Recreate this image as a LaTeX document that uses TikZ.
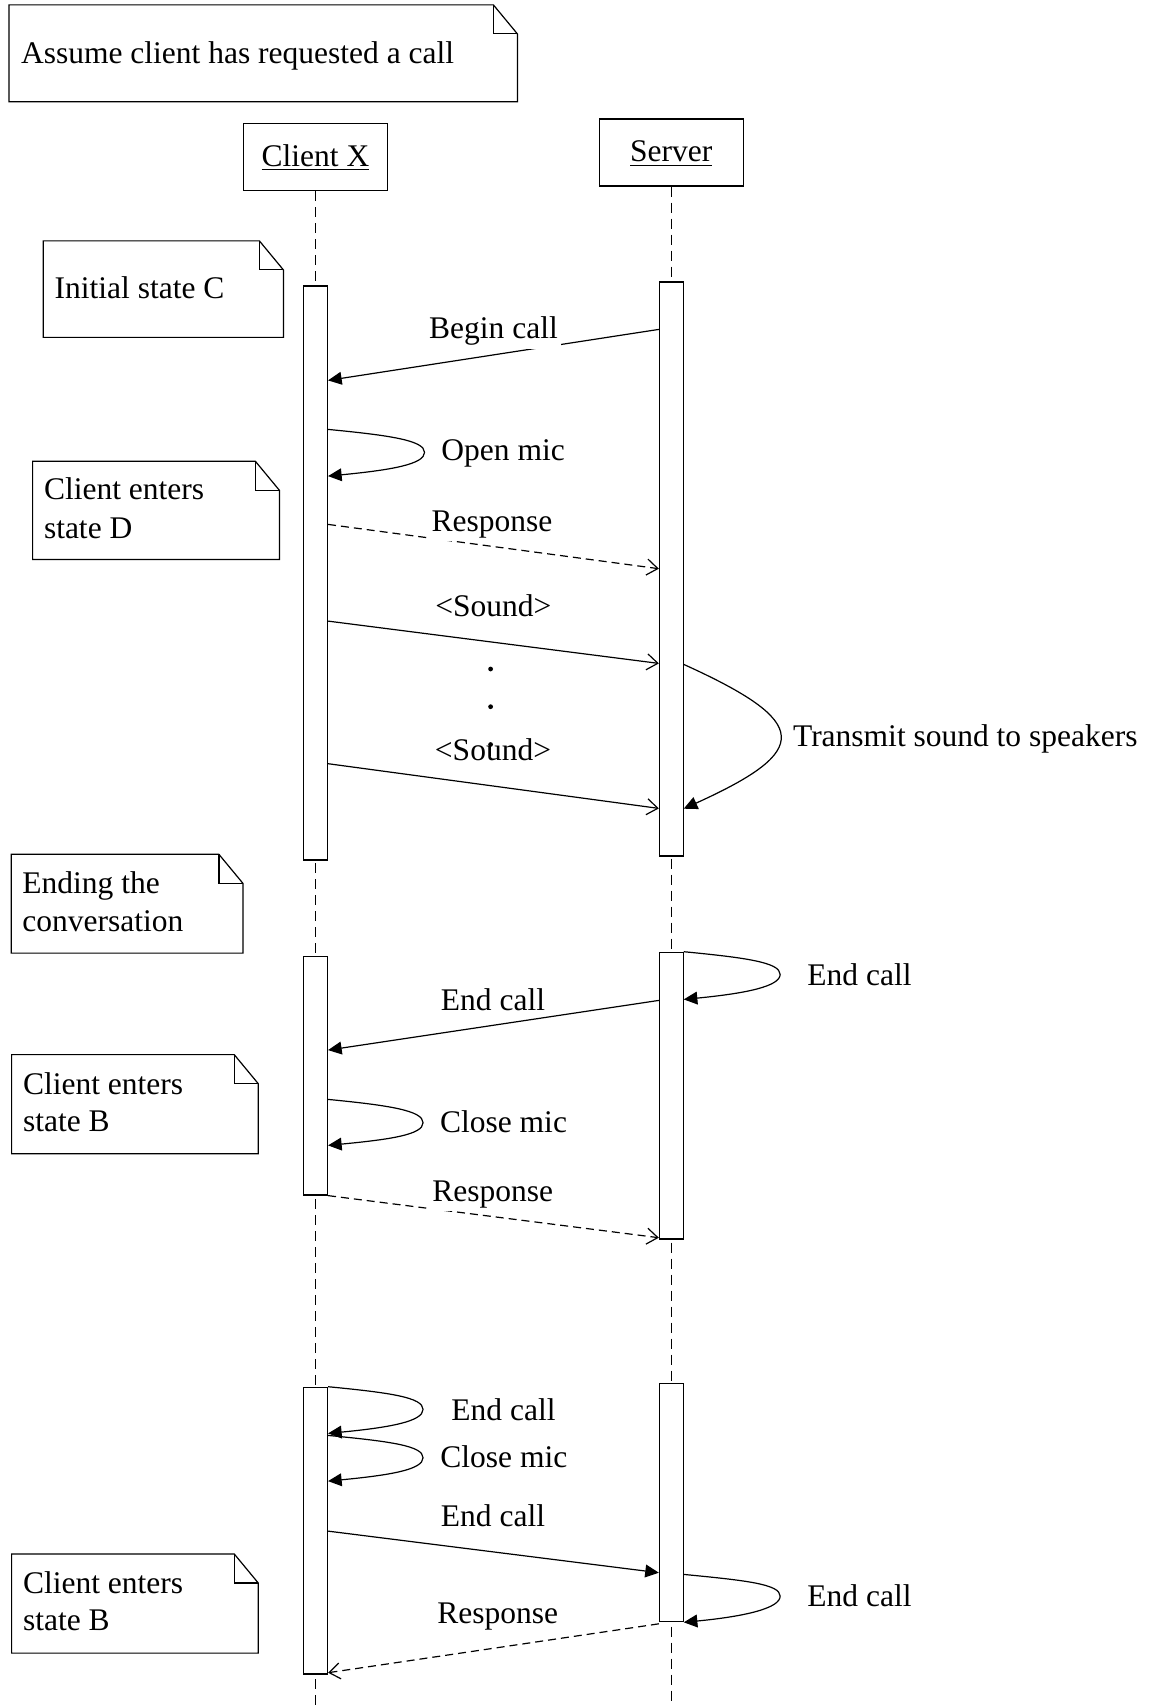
\documentclass[tikz,border=0pt]{standalone}
\usepackage{fontspec}
\setmainfont{Liberation Serif}
\usetikzlibrary{arrows.meta,calc}

% Note outline with a folded top-right corner, drawn around an empty node
\newcommand\notefold[1]{%
  \draw[noteline,fill=white] (#1.south west) -- (#1.north west)
    -- ($(#1.north east)+(-24,0)$) -- ($(#1.north east)+(0,29)$)
    -- (#1.south east) -- cycle;
  \draw[noteline] ($(#1.north east)+(-24,0)$) |- ($(#1.north east)+(0,29)$);}

\begin{document}
\begin{tikzpicture}[x=0.5pt,y=-0.5pt,
  every node/.style={font=\fontsize{15.75}{19}\selectfont,inner sep=0pt},
  noteline/.style={line width=0.6pt},
  notebox/.style={inner sep=0pt},
  headbox/.style={draw,fill=white,line width=0.6pt,minimum width=71.9pt,
    minimum height=33.5pt,text height=9.5pt,text depth=0pt},
  lifeline/.style={line width=0.6pt,dash pattern=on 5pt off 3pt},
  actbar/.style={draw,fill=white,line width=0.6pt,minimum width=11.85pt},
  call/.style={line width=0.6pt,-{Triangle[length=6.8pt,width=6.4pt]}},
  send/.style={line width=0.6pt,-{Straight Barb[length=5.5pt,width=8pt]}},
  reply/.style={send,dash pattern=on 4pt off 2.5pt},
  msglabel/.style={fill=white,inner sep=1.5pt},
  looplabel/.style={anchor=base west},
]
\useasboundingbox (0,0) rectangle (1149,1706);

% ---- participants and lifelines
\node[headbox] (cx) at (315.5,157) {\underline{Client X}};
\node[headbox] (sv) at (671.2,152.5) {\underline{Server}};
\coordinate (cxend) at (315.5,1706);
\coordinate (svend) at (671.2,1706);
\draw[lifeline] (cx.south) -- (cxend);
\draw[lifeline] (sv.south) -- (svend);

% ---- activation bars
\node[actbar,minimum height=287pt]    (ca1) at (315.6,573) {};
\node[actbar,minimum height=287pt]    (sa1) at (671.3,569) {};
\node[actbar,minimum height=119.15pt] (ca2) at (315.6,1075.85) {};
\node[actbar,minimum height=143.35pt] (sa2) at (671.3,1095.65) {};
\node[actbar,minimum height=143.35pt] (ca3) at (315.6,1530.65) {};
\node[actbar,minimum height=119.2pt]  (sa3) at (671.3,1502.5) {};

% ---- notes
\node[notebox,minimum width=253.85pt,minimum height=48pt] (n0) at (263.15,53.3) {};
\notefold{n0}
\node[anchor=base west] (n0t) at (20.7,64) {Assume client has requested a call};

\node[notebox,minimum width=119.7pt,minimum height=47.85pt] (n1) at (163.3,289.15) {};
\notefold{n1}
\node[anchor=base west] (n1t) at (54.3,299) {Initial state C};

\node[notebox,minimum width=123pt,minimum height=48.65pt] (n2) at (156,510.35) {};
\notefold{n2}
\node[anchor=base west] (n2a) at (43.6,499.3) {Client enters};
\node[anchor=base west] (n2b) at (43.6,538.3) {state D};

\node[notebox,minimum width=115.45pt,minimum height=49pt] (n3) at (127.05,903.7) {};
\notefold{n3}
\node[anchor=base west] (n3a) at (22,893.3) {Ending the};
\node[anchor=base west] (n3b) at (22,931.7) {conversation};

\node[notebox,minimum width=122.9pt,minimum height=49.15pt] (n4) at (134.9,1104.15) {};
\notefold{n4}
\node[anchor=base west] (n4a) at (22.7,1094) {Client enters};
\node[anchor=base west] (n4b) at (22.7,1131.7) {state B};

\node[notebox,minimum width=122.9pt,minimum height=49.2pt] (n5) at (134.9,1603.5) {};
\notefold{n5}
\node[anchor=base west] (n5a) at (22.7,1593.3) {Client enters};
\node[anchor=base west] (n5b) at (22.7,1630.7) {state B};

% ---- call set-up
\coordinate (bcS) at ($(sa1.north west)+(0,48)$);
\coordinate (bcC) at ($(ca1.north east)+(0,95)$);
\draw[call] (bcS) -- (bcC);
\node[msglabel,anchor=base] (bcL) at (493.5,339) {Begin call};

\coordinate (omA) at ($(ca1.north east)+(0,144)$);
\coordinate (omT) at ($(ca1.north east)+(96.5,167)$);
\coordinate (omB) at ($(ca1.north east)+(0,190.7)$);
\draw[call] (omA) .. controls +(62,6) and +(0,-12) .. (omT)
                  .. controls +(0,12) and +(62,-6) .. (omB);
\node[looplabel] (omL) at (441,460.7) {Open mic};

\coordinate (r1C) at ($(ca1.north east)+(0,239)$);
\coordinate (r1S) at ($(sa1.north west)+(0,287.3)$);
\draw[reply] (r1C) -- (r1S);
\node[msglabel,anchor=base] (r1L) at (492,531.7) {Response};

% ---- sound stream
\coordinate (s1C) at ($(ca1.north east)+(0,335.7)$);
\coordinate (s1S) at ($(sa1.north west)+(0,382)$);
\draw[send] (s1C) -- (s1S);
\node[msglabel,anchor=base] (s1L) at (493.4,616.7) {<Sound>};

\coordinate (s2C) at ($(ca1.north east)+(0,478.3)$);
\coordinate (s2S) at ($(sa1.north west)+(0,527)$);
\draw[send] (s2C) -- (s2S);
\node[msglabel,anchor=base] (s2L) at (493,760) {<Sound>};

\fill (490.6,669) circle[radius=1.2pt];
\fill (490.6,706.7) circle[radius=1.2pt];
\fill (490.6,744.5) circle[radius=1.2pt];
\draw[line width=0.6pt] (490.6,744.5) -- (490.6,756);

\coordinate (txA) at ($(sa1.north east)+(0,383)$);
\coordinate (txB) at ($(sa1.north east)+(0,527.3)$);
\draw[call] (txA) .. controls +(128,58) and +(128,-58) .. (txB);
\node[looplabel] (txL) at (792.7,746) {Transmit sound to speakers};

% ---- server ends the call
\coordinate (e1A) at (sa2.north east);
\coordinate (e1T) at ($(sa2.north east)+(96.4,22.7)$);
\coordinate (e1B) at ($(sa2.north east)+(0,47.7)$);
\draw[call] (e1A) .. controls +(62,6) and +(0,-12) .. (e1T)
                  .. controls +(0,12) and +(62,-6) .. (e1B);
\node[looplabel] (e1L) at (807,985) {End call};

\coordinate (e2S) at ($(sa2.north west)+(0,48.7)$);
\coordinate (e2C) at ($(ca2.north east)+(0,94)$);
\draw[call] (e2S) -- (e2C);
\node[msglabel,anchor=base] (e2L) at (493,1010) {End call};

\coordinate (cmA) at ($(ca2.north east)+(0,143.3)$);
\coordinate (cmT) at ($(ca2.north east)+(95,166.6)$);
\coordinate (cmB) at ($(ca2.north east)+(0,189.3)$);
\draw[call] (cmA) .. controls +(62,6) and +(0,-12) .. (cmT)
                  .. controls +(0,12) and +(62,-6) .. (cmB);
\node[looplabel] (cmL) at (439.7,1132.7) {Close mic};

\coordinate (r2C) at (ca2.south east);
\coordinate (r2S) at ($(sa2.north west)+(0,286)$);
\draw[reply] (r2C) -- (r2S);
\node[msglabel,anchor=base] (r2L) at (492.8,1201) {Response};

% ---- client ends the call
\coordinate (e3A) at (ca3.north east);
\coordinate (e3T) at ($(ca3.north east)+(95,22.7)$);
\coordinate (e3B) at ($(ca3.north east)+(0,46.7)$);
\draw[call] (e3A) .. controls +(62,6) and +(0,-12) .. (e3T)
                  .. controls +(0,12) and +(62,-6) .. (e3B);
\node[looplabel] (e3L) at (451,1420) {End call};

\coordinate (cm2A) at ($(ca3.north east)+(0,48.7)$);
\coordinate (cm2T) at ($(ca3.north east)+(95,71)$);
\coordinate (cm2B) at ($(ca3.north east)+(0,94.4)$);
\draw[call] (cm2A) .. controls +(62,6) and +(0,-12) .. (cm2T)
                   .. controls +(0,12) and +(62,-6) .. (cm2B);
\node[looplabel] (cm2L) at (440,1467.7) {Close mic};

\coordinate (e4C) at ($(ca3.north east)+(0,144.4)$);
\coordinate (e4S) at ($(sa3.north west)+(0,190)$);
\draw[call] (e4C) -- (e4S);
\node[msglabel,anchor=base] (e4L) at (493,1526.7) {End call};

\coordinate (e5A) at ($(sa3.north east)+(0,191.7)$);
\coordinate (e5T) at ($(sa3.north east)+(96.4,213.4)$);
\coordinate (e5B) at (sa3.south east);
\draw[call] (e5A) .. controls +(62,6) and +(0,-12) .. (e5T)
                  .. controls +(0,12) and +(62,-6) .. (e5B);
\node[looplabel] (e5L) at (807,1606.7) {End call};

\coordinate (r3S) at ($(sa3.south west)+(0,1.5)$);
\coordinate (r3C) at ($(ca3.north east)+(0,286)$);
\draw[reply] (r3S) -- (r3C);
\node[msglabel,anchor=base] (r3L) at (497.8,1623.3) {Response};
\end{tikzpicture}
\end{document}
